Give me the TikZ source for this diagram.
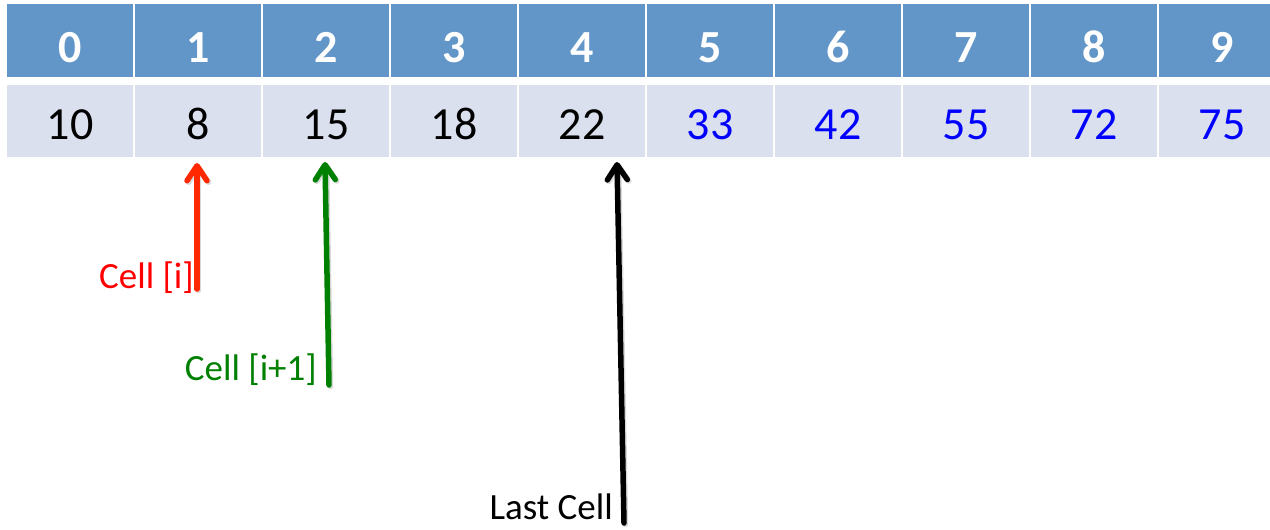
\documentclass[tikz,border=0pt]{standalone}
\usepackage{fontspec}
\setmainfont{Carlito}
\usetikzlibrary{arrows.meta}
\definecolor{hdr}{RGB}{98,150,200}
\definecolor{val}{RGB}{218,224,238}
\definecolor{myblue}{RGB}{0,0,255}
\definecolor{mygreen}{RGB}{0,128,0}
\definecolor{myred}{RGB}{255,0,0}
\definecolor{arrred}{RGB}{255,40,0}
\begin{document}
\begin{tikzpicture}[x=1pt,y=-1pt,
  hcell/.style={fill=hdr,minimum width=126pt,minimum height=73pt,inner sep=0pt,outer sep=0pt},
  vcell/.style={fill=val,minimum width=126pt,minimum height=72pt,inner sep=0pt,outer sep=0pt},
  htext/.style={anchor=base,text=white,font=\fontsize{46}{50}\selectfont\bfseries,inner sep=0pt},
  vtext/.style={anchor=base,font=\fontsize{46}{50}\selectfont,inner sep=0pt},
  lbl/.style={anchor=base east,font=\fontsize{37}{40}\selectfont,inner sep=0pt},
  ptr/.style={line width=5.5pt,line cap=round,-{Straight Barb[length=15pt,width=20pt,round]}},
  shad/.style={ptr,black,opacity=0.15,transform canvas={shift={(1.5pt,-1.5pt)}}}
]
\useasboundingbox (0,0) rectangle (1270,530);
\clip (0,0) rectangle (1270,530);
\foreach \i/\v/\c in {0/10/black,1/8/black,2/15/black,3/18/black,4/22/black,5/33/myblue,6/42/myblue,7/55/myblue,8/72/myblue,9/75/myblue}{
  \node[hcell] (h\i) at ({70+128*\i},40.5) {};
  \node[htext] (ht\i) at ({70+128*\i},62) {\i};
  \node[vcell] (v\i) at ({70+128*\i},121) {};
  \node[vtext,text=\c] (vt\i) at ({70+128*\i},139) {\v};
}
% red pointer
\coordinate (rb) at (197,289);
\coordinate (rt) at (197,163);
\draw[shad] (rb) -- (rt);
\draw[ptr,arrred] (rb) -- (rt);
\node[lbl,text=myred] (lr) at (194,288) {Cell [i]};
% green pointer
\coordinate (gb) at (329,385);
\coordinate (gt) at (325,162);
\draw[shad] (gb) -- (gt);
\draw[ptr,mygreen] (gb) -- (gt);
\node[lbl,text=mygreen] (lg) at (317,380) {Cell [i+1]};
% black pointer
\coordinate (bb) at (624,523);
\coordinate (bt) at (617,162);
\draw[shad] (bb) -- (bt);
\draw[ptr,black] (bb) -- (bt);
\node[lbl,text=black] (lb) at (613,519) {Last Cell};
\end{tikzpicture}
\end{document}
